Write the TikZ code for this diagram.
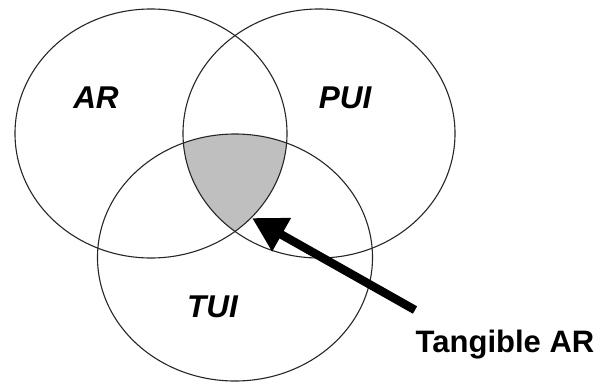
\documentclass[tikz,border=0pt]{standalone}
\usepackage{fontspec}
\setmainfont{Liberation Sans}
\usetikzlibrary{arrows.meta}
\tikzset{
  setring/.style={draw=black!85, line width=1.1pt},
  setlabel/.style={font=\fontsize{31.5}{36}\selectfont\bfseries\itshape, inner sep=0pt},
  calllabel/.style={font=\fontsize{31}{36}\selectfont\bfseries, inner sep=0pt},
  pointer/.style={line width=8.5pt, -{Triangle[length=34pt,width=36pt]}}
}
\begin{document}
\begin{tikzpicture}[x=1pt,y=-1pt]
\useasboundingbox (0,0) rectangle (615,383);
\coordinate (cAR) at (151,133.5);
\coordinate (cPUI) at (319,133.5);
\coordinate (cTUI) at (235,257.5);
\begin{scope}
  \clip (cAR) ellipse [x radius=136, y radius=124.5];
  \clip (cPUI) ellipse [x radius=136, y radius=124.5];
  \fill[fill=black!25] (cTUI) ellipse [x radius=137.5, y radius=123.5];
\end{scope}
\draw[setring] (cAR) ellipse [x radius=136, y radius=124.5];
\draw[setring] (cPUI) ellipse [x radius=136, y radius=124.5];
\draw[setring] (cTUI) ellipse [x radius=137.5, y radius=123.5];
\node[setlabel] (lAR) at (96,97.5) {AR};
\node[setlabel] (lPUI) at (345,97.5) {PUI};
\node[setlabel] (lTUI) at (212.5,306.5) {TUI};
\node[calllabel, anchor=base] (lTAR) at (505,352) {Tangible AR};
\coordinate (tail) at (415,310);
\coordinate (tip) at (252,218);
\draw[pointer] (tail) -- (tip);
\end{tikzpicture}
\end{document}
